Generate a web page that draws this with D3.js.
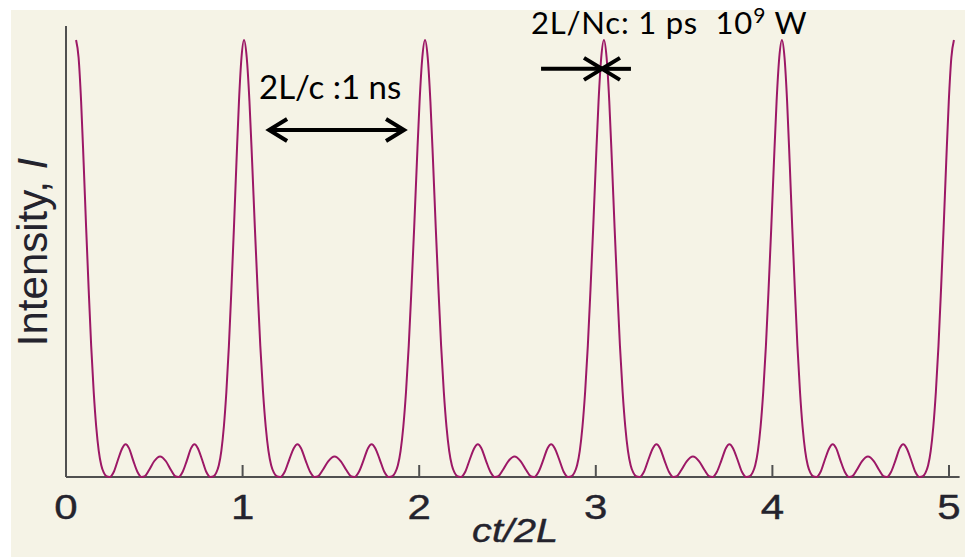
<!DOCTYPE html>
<html lang="en">
<head>
<meta charset="UTF-8">
<title>Mode-locked pulse train</title>
<script src="https://d3js.org/d3.v7.min.js"></script>
<style>
    body { margin: 0; padding: 0; background: #fff; }
    svg { display: block; }
    .tick-label { font-family: "Liberation Sans", Arial, sans-serif; fill: #24232d; stroke: #24232d; stroke-width: 0.4px; }
    .axis-title { font-family: "Liberation Sans", Arial, sans-serif; fill: #24232d; }
    .note { font-family: Lato, "Open Sans", sans-serif; fill: #000; white-space: pre; }
</style>
</head>
<body>
<svg width="967" height="557"></svg>
<script>
    // peak centres (ct/2L units)
    const peakX = [0.057, 1.008, 2.033, 3.046, 4.054, 5.028];

    // one period of the trace, from a peak to just before the next one
    // (fraction of the period, relative intensity)
    const profileFrac = [0.000, 0.015, 0.030, 0.045, 0.060, 0.075, 0.090, 0.105, 0.120, 0.135,
        0.150, 0.165, 0.180, 0.200, 0.225, 0.250, 0.275, 0.295, 0.315, 0.340, 0.365, 0.390,
        0.410, 0.435, 0.465, 0.500, 0.535, 0.565, 0.590, 0.610, 0.635, 0.660, 0.685, 0.705,
        0.725, 0.750, 0.775, 0.800, 0.820, 0.835, 0.850, 0.865, 0.880, 0.895, 0.910, 0.925,
        0.940, 0.955, 0.970, 0.985];
    const profileI = [1.000, 0.960, 0.860, 0.720, 0.570, 0.430, 0.300, 0.195, 0.115, 0.060,
        0.027, 0.010, 0.002, 0.000, 0.012, 0.040, 0.066, 0.075, 0.066, 0.038, 0.012, 0.000,
        0.002, 0.016, 0.036, 0.047, 0.036, 0.016, 0.002, 0.000, 0.012, 0.038, 0.066, 0.075,
        0.066, 0.040, 0.012, 0.000, 0.002, 0.010, 0.027, 0.060, 0.115, 0.195, 0.300, 0.430,
        0.570, 0.720, 0.860, 0.960];

    const xTicks = [0, 1, 2, 3, 4, 5];

    const svg = d3.select("svg");

    const x = d3.scaleLinear().domain([0, 5]).range([66, 949]);
    const y = d3.scaleLinear().domain([0, 1]).range([477, 40]);

    // build the trace from the period profile placed between each pair of peaks
    const trace = [];
    for (let i = 0; i < peakX.length - 1; i++) {
        const span = peakX[i + 1] - peakX[i];
        profileFrac.forEach((f, j) => trace.push([peakX[i] + f * span, profileI[j]]));
    }
    trace.push([peakX[peakX.length - 1], 1]);

    // beige panel
    svg.append("rect")
        .attr("x", 11).attr("y", 10)
        .attr("width", 954).attr("height", 547)
        .attr("fill", "#f5f3e6");

    // axes
    svg.append("line")
        .attr("x1", x(0)).attr("x2", x(0))
        .attr("y1", y(0)).attr("y2", y(1.032))
        .attr("stroke", "#505050").attr("stroke-width", 2);

    svg.append("line")
        .attr("x1", x(0)).attr("x2", x(5.06))
        .attr("y1", y(0)).attr("y2", y(0))
        .attr("stroke", "#505050").attr("stroke-width", 2);

    svg.append("g").selectAll("line")
        .data(xTicks.slice(1))
        .enter().append("line")
        .attr("x1", d => x(d)).attr("x2", d => x(d))
        .attr("y1", y(0)).attr("y2", y(0) - 12)
        .attr("stroke", "#505050").attr("stroke-width", 2);

    svg.append("g").selectAll("text")
        .data(xTicks)
        .enter().append("text")
        .attr("class", "tick-label")
        .attr("text-anchor", "middle")
        .attr("font-size", 35)
        .attr("transform", d => `translate(${x(d)},519) scale(1.2,1)`)
        .text(d => d);

    svg.append("text")
        .attr("class", "tick-label")
        .attr("text-anchor", "middle")
        .attr("font-size", 33)
        .attr("font-style", "italic")
        .attr("transform", "translate(515,542) scale(1.2,1)")
        .text("ct/2L");

    const ylab = svg.append("text")
        .attr("class", "axis-title")
        .attr("text-anchor", "middle")
        .attr("font-size", 42)
        .attr("transform", "translate(47,252) rotate(-90)");
    ylab.append("tspan").text("Intensity, ");
    ylab.append("tspan").attr("font-style", "italic").text("I");

    // the pulse train
    const line = d3.line()
        .x(d => x(d[0]))
        .y(d => y(d[1]))
        .curve(d3.curveMonotoneX);

    svg.append("path")
        .datum(trace)
        .attr("fill", "none")
        .attr("stroke", "#9c1866")
        .attr("stroke-width", 2)
        .attr("stroke-linejoin", "round")
        .attr("d", line);

    // annotations
    function arrowHead(tx, ty, dir) {
        svg.append("path")
            .attr("d", `M${tx - dir * 18},${ty - 11} L${tx},${ty} L${tx - dir * 18},${ty + 11}`)
            .attr("fill", "none")
            .attr("stroke", "#000")
            .attr("stroke-width", 4)
            .attr("stroke-linejoin", "miter");
    }

    function arrowLine(x1, x2, ty) {
        svg.append("line")
            .attr("x1", x1).attr("x2", x2)
            .attr("y1", ty).attr("y2", ty)
            .attr("stroke", "#000").attr("stroke-width", 4);
    }

    // round-trip time
    const a1 = { from: 1.15, to: 1.914, level: 0.794 };
    arrowLine(x(a1.from), x(a1.to), y(a1.level));
    arrowHead(x(a1.from), y(a1.level), -1);
    arrowHead(x(a1.to), y(a1.level), 1);

    // pulse width
    const a2 = { left: 2.69, tip: 3.035, right: 3.199, level: 0.934 };
    arrowLine(x(a2.left), x(a2.tip), y(a2.level));
    arrowHead(x(a2.tip), y(a2.level), 1);
    arrowLine(x(a2.right), x(a2.tip), y(a2.level));
    arrowHead(x(a2.tip), y(a2.level), -1);

    svg.append("text")
        .attr("class", "note")
        .attr("x", x(1.093)).attr("y", y(0.865))
        .attr("font-size", 33)
        .text("2L/c :1 ns");

    const t2 = svg.append("text")
        .attr("class", "note")
        .attr("x", x(2.633)).attr("y", y(1.014))
        .attr("font-size", 31)
        .attr("letter-spacing", 0.8);
    t2.append("tspan").text("2L/Nc: 1 ps  10");
    t2.append("tspan").attr("font-size", 21).attr("dy", -11).text("9");
    t2.append("tspan").attr("dy", 11).text(" W");
</script>
</body>
</html>
